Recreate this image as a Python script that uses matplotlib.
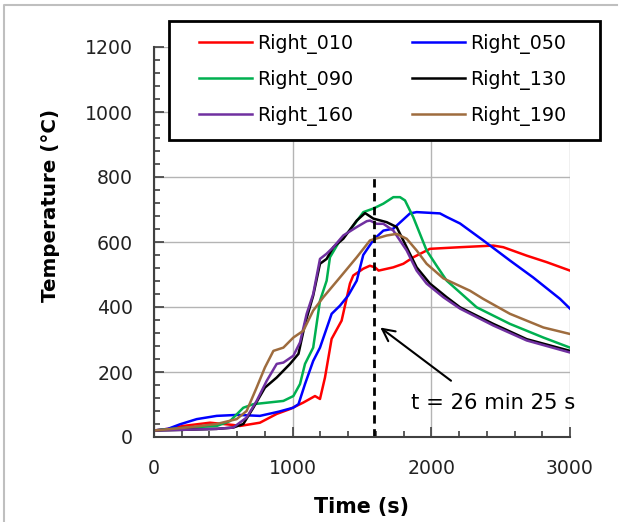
import matplotlib
matplotlib.use("Agg")
import matplotlib.pyplot as plt
from matplotlib.lines import Line2D
from matplotlib.patches import Rectangle

plt.rcParams['font.family'] = ['DejaVu Sans']

# Right_010
t_010 = [0, 100, 211, 404, 571, 620, 764, 885, 981, 1077, 1161, 1197, 1233, 1281, 1353, 1413,
         1437, 1510, 1557, 1594, 1620, 1725, 1798, 1870, 1990, 2207, 2447, 2519, 2688, 2832, 3000]
T_010 = [20, 25, 34, 44, 37, 34, 44, 71, 86, 106, 126, 117, 183, 302, 358, 472,
         497, 518, 527, 522, 512, 522, 533, 553, 579, 584, 589, 584, 558, 538, 512]

# Right_050
t_050 = [0, 100, 187, 308, 452, 600, 764, 900, 1003, 1042, 1089, 1148, 1197, 1281, 1341, 1400,
         1462, 1509, 1585, 1654, 1726, 1800, 1846, 1894, 2062, 2111, 2207, 2374, 2567, 2734, 2928, 3000]
T_050 = [20, 25, 39, 55, 65, 68, 65, 78, 90, 101, 163, 234, 275, 379, 404, 435,
         481, 560, 608, 635, 641, 670, 688, 692, 688, 677, 657, 605, 543, 491, 425, 395]

# Right_090
t_090 = [0, 211, 452, 548, 644, 716, 933, 1005, 1053, 1089, 1148, 1197, 1245, 1269, 1341, 1413,
         1510, 1582, 1654, 1726, 1774, 1810, 1870, 1966, 2038, 2111, 2327, 2567, 2808, 3000]
T_090 = [20, 28, 34, 49, 90, 101, 111, 126, 163, 225, 275, 419, 481, 553, 605, 636,
         692, 703, 718, 738, 738, 728, 676, 574, 527, 481, 399, 348, 306, 275]

# Right_130
t_130 = [0, 200, 452, 571, 644, 716, 800, 885, 981, 1042, 1089, 1148, 1197, 1245, 1293, 1365,
         1462, 1522, 1582, 1678, 1750, 1822, 1894, 1990, 2111, 2207, 2447, 2688, 3000]
T_130 = [20, 22, 25, 29, 40, 90, 152, 183, 225, 256, 348, 435, 533, 548, 584, 610,
         666, 689, 672, 661, 646, 584, 522, 472, 430, 399, 348, 301, 265]

# Right_160
t_160 = [0, 200, 452, 571, 668, 740, 813, 885, 933, 1005, 1053, 1101, 1148, 1197, 1245, 1293,
         1365, 1462, 1534, 1558, 1606, 1654, 1726, 1822, 1894, 1966, 2087, 2207, 2447, 2688, 3000]
T_160 = [20, 22, 25, 29, 60, 111, 173, 225, 229, 250, 291, 379, 440, 548, 564, 584,
         620, 646, 664, 666, 656, 656, 635, 574, 512, 472, 430, 395, 343, 297, 260]

# Right_190
t_190 = [0, 211, 452, 596, 668, 740, 800, 861, 933, 1005, 1077, 1148, 1221, 1341, 1462, 1558,
         1678, 1750, 1822, 1894, 1966, 2087, 2279, 2374, 2567, 2808, 3000]
T_190 = [20, 28, 40, 55, 80, 152, 214, 265, 275, 306, 327, 389, 430, 491, 553, 605,
         620, 625, 610, 574, 533, 488, 450, 425, 379, 337, 317]

series = [
    ("Right_010", t_010, T_010, "#FF0000"),
    ("Right_050", t_050, T_050, "#0000FF"),
    ("Right_090", t_090, T_090, "#00B050"),
    ("Right_130", t_130, T_130, "#000000"),
    ("Right_160", t_160, T_160, "#7030A0"),
    ("Right_190", t_190, T_190, "#9E6C3E"),
]

t_event = 1585  # 26 min 25 s

fig = plt.figure(figsize=(6.21, 5.22), dpi=100)
ax = fig.add_axes([154 / 621, 1 - 437 / 522, 416 / 621, 390 / 522])

handles = []
for name, t, T, c in series:
    h, = ax.plot(t, T, color=c, lw=1.8, label=name)
    handles.append(h)

ax.plot([t_event, t_event], [0, 805], color="black", lw=2, linestyle=(0, (3, 2)))
ax.annotate("", xy=(1616, 342), xytext=(2158, 168),
            arrowprops=dict(arrowstyle="->", color="black", lw=1.5, mutation_scale=22))
ax.text(1853, 105, "t = 26 min 25 s", fontsize=15.2, ha="left", va="center")

ax.set_xlim(0, 3000)
ax.set_ylim(0, 1200)
ax.set_xticks([0, 1000, 2000, 3000])
ax.set_yticks(range(0, 1201, 200))
ax.set_xticks(range(0, 3001, 200), minor=True)
ax.set_yticks(range(0, 1201, 40), minor=True)
ax.tick_params(which="both", direction="in", colors="#404040", labelcolor="#222222", labelsize=13.6)
ax.tick_params(which="major", length=7, width=1.2)
ax.tick_params(which="minor", length=4.5, width=1.2)
ax.tick_params(axis="y", pad=15)
ax.tick_params(axis="x", pad=16)
ax.grid(True, which="major", color="#B4B4B4", lw=1)
for s in ["top", "right"]:
    ax.spines[s].set_visible(False)
for s in ["left", "bottom"]:
    ax.spines[s].set_color("#404040")
    ax.spines[s].set_linewidth(1.5)

ax.set_xlabel("Time (s)", fontsize=14.9, fontweight="bold")
ax.set_ylabel("Temperature (°C)", fontsize=14.3, fontweight="bold")
ax.xaxis.set_label_coords(0.498, -0.154)
ax.yaxis.set_label_coords(-0.226, 0.595)

# legend box, filled row by row
fig.patches.append(Rectangle((169 / 621, 1 - 140 / 522), 431 / 621, 119 / 522,
                             transform=fig.transFigure, facecolor="white",
                             edgecolor="black", lw=2, zorder=5))
order = [0, 2, 4, 1, 3, 5]
fig.legend(handles=[handles[i] for i in order], ncol=2, loc="upper left",
           bbox_to_anchor=(199 / 621, 1 - 34 / 522), frameon=False,
           fontsize=13.7, handlelength=2.8, handletextpad=0.26, columnspacing=3.05,
           labelspacing=0.84, borderpad=0, borderaxespad=0)

# outer border
fig.lines.append(Line2D([3.5 / 621, 3.5 / 621, 617 / 621], [0, 1 - 4.5 / 522, 1 - 4.5 / 522],
                        transform=fig.transFigure, color="#BFBFBF", lw=1.5))

fig.savefig("out.png", dpi=100)
